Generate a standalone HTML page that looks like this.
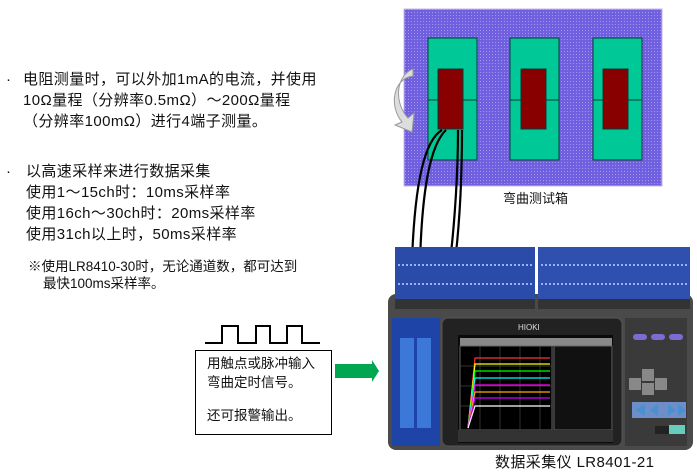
<!DOCTYPE html>
<html><head><meta charset="utf-8"><style>
body{margin:0;width:697px;height:475px;background:#fff;position:relative;overflow:hidden;font-family:"Liberation Sans","Noto Sans CJK SC",sans-serif;color:#111}
.t{position:absolute;font-size:15px;white-space:nowrap;line-height:20px;letter-spacing:0.4px}
.s{position:absolute;font-size:13.5px;white-space:nowrap;line-height:17px}
.a{position:absolute}
</style></head><body>
<div class="t" style="left:6px;top:70px">·</div>
<div class="t" style="left:23px;top:70px">电阻测量时，可以外加1mA的电流，并使用</div>
<div class="t" style="left:23px;top:91px">10Ω量程（分辨率0.5mΩ）～200Ω量程</div>
<div class="t" style="left:23px;top:112px">（分辨率100mΩ）进行4端子测量。</div>
<div class="t" style="left:6px;top:162px">·</div>
<div class="t" style="left:26px;top:162px">以高速采样来进行数据采集</div>
<div class="t" style="left:26px;top:183px">使用1～15ch时：10ms采样率</div>
<div class="t" style="left:26px;top:204px">使用16ch～30ch时：20ms采样率</div>
<div class="t" style="left:26px;top:225px">使用31ch以上时，50ms采样率</div>
<div class="s" style="left:28px;top:258px">※使用LR8410-30时，无论通道数，都可达到</div>
<div class="s" style="left:43px;top:275px">最快100ms采样率。</div>

<svg class="a" style="left:0;top:0" width="697" height="475">
<defs><pattern id="d" width="3" height="3" patternUnits="userSpaceOnUse"><rect width="3" height="3" fill="#7060e0"/><rect width="1" height="1" fill="#a098f0"/></pattern></defs>
<rect x="404" y="9" width="258" height="177" fill="url(#d)" stroke="#c8b8e8"/>
<g stroke="#0a3a3a" stroke-width="1">
<rect x="428" y="38" width="49" height="122" fill="#00c896"/>
<rect x="510" y="38" width="49" height="122" fill="#00c896"/>
<rect x="593" y="38" width="49" height="122" fill="#00c896"/>
<line x1="428" y1="100" x2="477" y2="100"/><line x1="510" y1="100" x2="559" y2="100"/><line x1="593" y1="100" x2="642" y2="100"/>
<rect x="438" y="69" width="25" height="60" fill="#880000"/>
<rect x="521" y="69" width="25" height="60" fill="#880000"/>
<rect x="603" y="69" width="25" height="60" fill="#880000"/>
</g>
<path d="M413,69 C398,74 392,100 408,118 L414,113 L412,132 L395,125 L402,122 C388,105 394,78 413,76Z" fill="#ddd" stroke="#999"/>
<g fill="none" stroke="#000" stroke-width="2.2">
<path d="M442,130 C425,140 415,180 412,260"/><path d="M446,130 C430,145 422,190 420,262"/>
<path d="M458,130 C458,170 455,220 450,262"/><path d="M462,130 C462,170 460,220 455,262"/>
</g>
<rect x="388" y="294" width="305" height="156" rx="8" fill="#4a4a4a"/>
<rect x="395" y="247" width="140" height="52" fill="#2a4ca8"/>
<rect x="538" y="247" width="152" height="52" fill="#3050b0"/>
<g stroke="#9ab0ff" stroke-width="2">
<line x1="398" y1="265" x2="532" y2="265" stroke-dasharray="2,2"/>
<line x1="398" y1="284" x2="532" y2="284" stroke-dasharray="2,2"/>
<line x1="541" y1="265" x2="687" y2="265" stroke-dasharray="2,2"/>
<line x1="541" y1="284" x2="687" y2="284" stroke-dasharray="2,2"/>
</g>
<rect x="395" y="299" width="140" height="10" fill="#333"/><rect x="538" y="299" width="152" height="10" fill="#333"/>
<rect x="392" y="318" width="48" height="128" fill="#1e44a8"/>
<g fill="#3c78d8"><rect x="400" y="338" width="14" height="90"/><rect x="417" y="338" width="14" height="90"/></g>
<rect x="442" y="318" width="180" height="128" rx="6" fill="#222" stroke="#555"/>
<rect x="458" y="335" width="155" height="108" fill="#0a0a0a"/>
<rect x="460" y="338" width="152" height="8" fill="#888"/>
<rect x="460" y="346" width="92" height="84" fill="#000" stroke="#666"/>
<g stroke="#444" stroke-width="0.7"><line x1="480" y1="346" x2="480" y2="430"/><line x1="500" y1="346" x2="500" y2="430"/><line x1="520" y1="346" x2="520" y2="430"/><line x1="540" y1="346" x2="540" y2="430"/><line x1="460" y1="366" x2="552" y2="366"/><line x1="460" y1="386" x2="552" y2="386"/><line x1="460" y1="406" x2="552" y2="406"/></g>
<g stroke-width="1.2" fill="none">
<path d="M468,428 L475,358 H550" stroke="#f33"/><path d="M468,428 L475,364 H550" stroke="#ff0"/><path d="M468,428 L475,371 H550" stroke="#0f0"/><path d="M468,428 L475,378 H550" stroke="#0ff"/><path d="M468,428 L475,385 H550" stroke="#f0f"/><path d="M468,428 L475,392 H550" stroke="#fa0"/><path d="M468,428 L475,398 H550" stroke="#c0f"/><path d="M468,428 L475,406 H550" stroke="#fff"/></g>
<rect x="554" y="346" width="58" height="84" fill="#111" stroke="#666"/>
<rect x="458" y="430" width="155" height="12" fill="#333"/>
<text x="518" y="330" fill="#ddd" font-size="8" font-family="Liberation Sans">HIOKI</text>
<rect x="625" y="318" width="62" height="128" fill="#3a3a3a"/>
<g fill="#7a6cd0"><rect x="633" y="334" width="14" height="6" rx="3"/><rect x="651" y="334" width="14" height="6" rx="3"/><rect x="669" y="334" width="14" height="6" rx="3"/></g>
<g fill="#888"><rect x="642" y="369" width="12" height="12"/><rect x="642" y="383" width="12" height="12"/><rect x="629" y="378" width="12" height="12"/><rect x="655" y="378" width="12" height="12"/></g>
<rect x="632" y="402" width="54" height="16" fill="#6d8ec8"/>
<g fill="#4a90d0"><polygon points="635,410 645,404 645,416"/><polygon points="650,410 658,404 658,416"/><polygon points="668,404 676,410 668,416"/><polygon points="678,404 686,410 678,416"/></g>
<rect x="655" y="426" width="18" height="8" fill="#222"/><rect x="669" y="425" width="16" height="9" fill="#6cb"/>
<polyline points="205,343 222,343 222,326 238,326 238,343 256,343 256,326 270,326 270,343 287,343 287,326 302,326 302,343 320,343" fill="none" stroke="#000" stroke-width="2"/>
<rect x="195.5" y="350.5" width="136" height="84" fill="#fff" stroke="#000"/>
<polygon points="335,364 372,364 372,360 379,371 372,382 372,378 335,378" fill="#00a650"/>
</svg>
<div class="s" style="left:207px;top:355px">用触点或脉冲输入</div>
<div class="s" style="left:207px;top:374px">弯曲定时信号。</div>
<div class="s" style="left:207px;top:407px">还可报警输出。</div>
<div class="s" style="left:503px;top:190px;font-size:13px">弯曲测试箱</div>
<div class="t" style="left:495px;top:453px">数据采集仪 LR8401-21</div>
</body></html>
